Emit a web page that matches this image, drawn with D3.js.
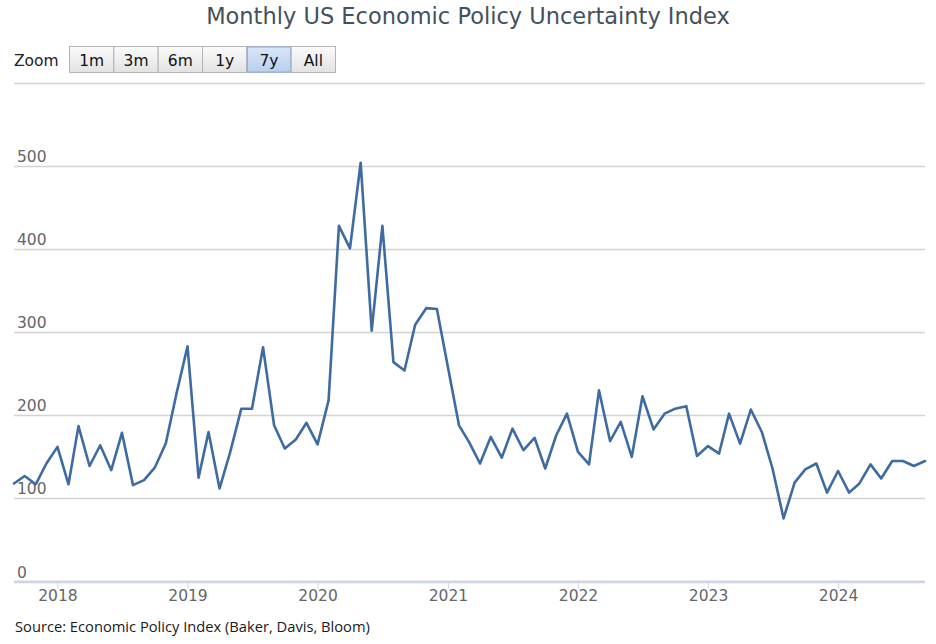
<!DOCTYPE html>
<html>
<head>
<meta charset="utf-8">
<script src="https://cdn.jsdelivr.net/npm/d3@7"></script>
<style>
  html, body { margin: 0; padding: 0; background: #fff; }
  svg { display: block; }
</style>
</head>
<body>
<svg id="chart" width="936" height="644"></svg>
<script>
// ---- data ----
const titleText = "Monthly US Economic Policy Uncertainty Index";
const sourceText = "Source: Economic Policy Index (Baker, Davis, Bloom)";
const startMonth = "2017-09";
const epuValues = [
  118, 127, 117, 142,
  162, 117, 187, 139, 164, 134, 179, 116, 122, 137, 166, 226,
  283, 125, 180, 112, 156, 208, 208, 282, 188, 160, 171, 191,
  165, 218, 428, 401, 504, 302, 428, 264, 254, 309, 329, 328,
  258, 188, 168, 142, 174, 149, 184, 158, 173, 136, 176, 202,
  156, 141, 230, 169, 192, 150, 223, 183, 202, 208, 211, 151,
  163, 154, 202, 166, 207, 180, 136, 76, 119, 135, 142, 107,
  133, 107, 118, 141, 124, 145, 145, 139, 145
];
const yTickValues = [0, 100, 200, 300, 400, 500];
const yGridValues = [0, 100, 200, 300, 400, 500, 600];
const xTickYears = ["2018", "2019", "2020", "2021", "2022", "2023", "2024"];
const zoomButtons = ["1m", "3m", "6m", "1y", "7y", "All"];
const selectedButton = "7y";

// ---- layout ----
const svg = d3.select("#chart");
const plot = { left: 14, right: 925, top: 83, bottom: 581.5 };
const parseMonth = d3.timeParse("%Y-%m");
const parseYear = d3.timeParse("%Y");
const start = parseMonth(startMonth);
const dates = epuValues.map((v, i) => d3.timeMonth.offset(start, i));
const data = dates.map((d, i) => ({ date: d, value: epuValues[i] }));

const x = d3.scaleTime()
  .domain([dates[0], dates[dates.length - 1]])
  .range([plot.left, plot.right]);
const y = d3.scaleLinear()
  .domain([0, 600])
  .range([plot.bottom, plot.top]);

const axisFont = "'DejaVu Sans', sans-serif";
const labelColor = "#666666";

// title
const title = svg.append("text")
  .attr("x", 468).attr("y", 24)
  .attr("text-anchor", "middle")
  .attr("font-family", axisFont)
  .attr("font-size", 21)
  .attr("fill", "#44505c")
  .text(titleText);
{
  const w = title.node().getComputedTextLength();
  title.attr("font-size", 21 * 524 / w);
}

// zoom label + buttons
svg.append("text")
  .attr("x", 14).attr("y", 66)
  .attr("font-family", axisFont)
  .attr("font-size", 15.5)
  .attr("fill", "#222")
  .text("Zoom");

const defs = svg.append("defs");
const gN = defs.append("linearGradient").attr("id", "btnN").attr("x1", 0).attr("y1", 0).attr("x2", 0).attr("y2", 1);
gN.append("stop").attr("offset", "0%").attr("stop-color", "#fbfbfb");
gN.append("stop").attr("offset", "100%").attr("stop-color", "#e2e2e2");
const gS = defs.append("linearGradient").attr("id", "btnS").attr("x1", 0).attr("y1", 0).attr("x2", 0).attr("y2", 1);
gS.append("stop").attr("offset", "0%").attr("stop-color", "#d9e6f7");
gS.append("stop").attr("offset", "100%").attr("stop-color", "#b7cfee");

const btnX = d3.scaleBand().domain(zoomButtons).range([69, 335]).padding(0);
const btn = svg.append("g").selectAll("g").data(zoomButtons).join("g");
btn.append("rect")
  .attr("x", d => btnX(d) + 0.5)
  .attr("y", 46.5)
  .attr("width", btnX.bandwidth())
  .attr("height", 26)
  .attr("fill", d => d === selectedButton ? "url(#btnS)" : "url(#btnN)")
  .attr("stroke", "#b4b4b4")
  .attr("stroke-width", 1);
btn.filter(d => d === selectedButton).append("rect")
  .attr("x", d => btnX(d) + 1)
  .attr("y", 47)
  .attr("width", btnX.bandwidth() - 1)
  .attr("height", 25)
  .attr("fill", "none")
  .attr("stroke", "#8eaedb")
  .attr("stroke-width", 1);
btn.append("text")
  .attr("x", d => btnX(d) + btnX.bandwidth() / 2 + 0.5)
  .attr("y", 66)
  .attr("text-anchor", "middle")
  .attr("font-family", axisFont)
  .attr("font-size", 15.5)
  .attr("fill", "#111")
  .text(d => d);

// grid
svg.append("g").selectAll("line").data(yGridValues).join("line")
  .attr("x1", plot.left).attr("x2", plot.right)
  .attr("y1", d => Math.round(y(d)) + 0.5).attr("y2", d => Math.round(y(d)) + 0.5)
  .attr("stroke", "#d3d3d3").attr("stroke-width", 1.5);

// y labels
svg.append("g").selectAll("text").data(yTickValues).join("text")
  .attr("x", 17)
  .attr("y", d => y(d) - 4)
  .attr("font-family", axisFont)
  .attr("font-size", 15.5)
  .attr("fill", labelColor)
  .text(d => d);

// x axis
const xAxisG = svg.append("g")
  .attr("transform", `translate(0,${plot.bottom})`)
  .call(d3.axisBottom(x)
    .tickValues(xTickYears.map(parseYear))
    .tickFormat(d3.timeFormat("%Y"))
    .tickSize(7)
    .tickPadding(1));
xAxisG.select(".domain").remove();
xAxisG.selectAll(".tick line").attr("stroke", "#ccd6eb").attr("stroke-width", 1);
xAxisG.selectAll(".tick text")
  .attr("font-family", axisFont)
  .attr("font-size", 15.5)
  .attr("fill", labelColor);
svg.append("line")
  .attr("x1", plot.left).attr("x2", plot.right)
  .attr("y1", plot.bottom).attr("y2", plot.bottom)
  .attr("stroke", "#ccd6eb").attr("stroke-width", 2);

// series line
const line = d3.line().x(d => x(d.date)).y(d => y(d.value));
svg.append("path")
  .datum(data)
  .attr("d", line)
  .attr("fill", "none")
  .attr("stroke", "#3d6ba2")
  .attr("stroke-width", 2.6)
  .attr("stroke-linejoin", "round")
  .attr("stroke-linecap", "round");

// source
const src = svg.append("text")
  .attr("x", 15).attr("y", 632)
  .attr("font-family", "'Open Sans', 'Noto Sans', sans-serif")
  .attr("font-size", 14)
  .attr("fill", "#1a1a1a")
  .text(sourceText);
{
  const w = src.node().getComputedTextLength();
  src.attr("font-size", 14 * 355 / w);
}
</script>
</body>
</html>
